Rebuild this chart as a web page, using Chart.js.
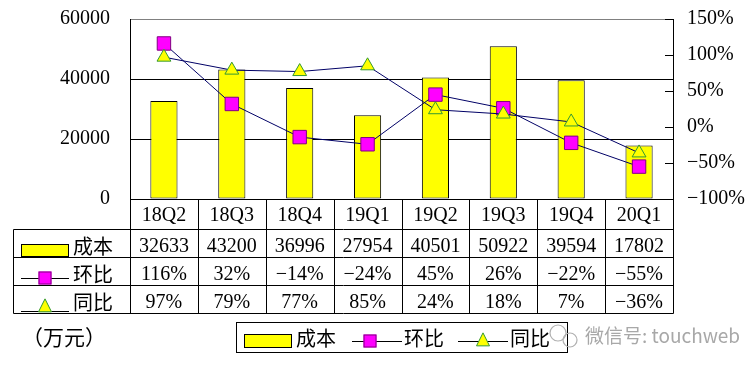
<!DOCTYPE html>
<html><head><meta charset="utf-8">
<script src="https://cdn.jsdelivr.net/npm/chart.js@4/dist/chart.umd.min.js"></script>
<style>html,body{margin:0;padding:0;background:#fff;}#wrap{position:relative;width:755px;height:369px;}</style>
</head><body><div id="wrap"><canvas id="c" width="755" height="369"></canvas></div>
<script>
const categories = ['18Q2','18Q3','18Q4','19Q1','19Q2','19Q3','19Q4','20Q1'];
const costValues = [32633,43200,36996,27954,40501,50922,39594,17802];
const qoqValues = [116,32,-14,-24,45,26,-22,-55];
const yoyValues = [97,79,77,85,24,18,7,-36];
const leftTickStep = 20000;
const leftMax = 60000;
const rightMin = -100, rightMax = 150, rightStep = 50;
const seriesNames = ['成本','环比','同比'];
const unitLabel = '（万元）';
const watermark = '微信号: touchweb';

const SERIF = '"Liberation Serif","Noto Sans CJK SC",serif';
const YELLOW = '#ffff00', MAGENTA = '#ff00ff', SQ_BORDER = '#800080', TRI_BORDER = '#339933', LINE = '#000066';

function pct(v){ return (v < 0 ? '\u2212' + Math.abs(v) : String(v)) + '%'; }

function drawSquare(ctx, x, y, s){
  ctx.fillStyle = MAGENTA; ctx.strokeStyle = SQ_BORDER; ctx.lineWidth = 1;
  ctx.fillRect(x - s/2, y - s/2, s, s); ctx.strokeRect(x - s/2 + 0.5, y - s/2 + 0.5, s - 1, s - 1);
}
function drawTri(ctx, x, y, s){
  ctx.fillStyle = YELLOW; ctx.strokeStyle = TRI_BORDER; ctx.lineWidth = 1;
  ctx.beginPath(); ctx.moveTo(x, y - s*0.55); ctx.lineTo(x + s/2, y + s*0.45); ctx.lineTo(x - s/2, y + s*0.45); ctx.closePath();
  ctx.fill(); ctx.stroke();
}

const extras = {
  id: 'extras',
  afterDatasetsDraw(chart){
    const ctx = chart.ctx, ca = chart.chartArea, y1 = chart.scales.y1;
    ctx.save();
    ctx.strokeStyle = '#000'; ctx.lineWidth = 1;
    y1.ticks.forEach(t => {
      const py = Math.round(y1.getPixelForValue(t.value)) + 0.5;
      ctx.beginPath(); ctx.moveTo(ca.right - 8, py); ctx.lineTo(ca.right, py); ctx.stroke();
    });
    ctx.restore();
  },
  afterDraw(chart){
    const ctx = chart.ctx, ca = chart.chartArea, xs = chart.scales.x;
    const R = Math.round(ca.right) + 0.5;
    const top = Math.round(ca.bottom) + 0.5;
    const rowsY = [top, top + 30, top + 58, top + 86, top + 114];
    const tableLeft = 13.5;
    const n = categories.length, colW = (ca.right - ca.left) / n;
    ctx.save();
    ctx.strokeStyle = '#000'; ctx.lineWidth = 1;
    ctx.beginPath();
    for (let r = 1; r < rowsY.length; r++){ ctx.moveTo(tableLeft, rowsY[r]); ctx.lineTo(R, rowsY[r]); }
    for (let i = 0; i <= n; i++){
      const x = Math.round(ca.left + i * colW) + 0.5;
      ctx.moveTo(x, rowsY[0]); ctx.lineTo(x, rowsY[4]);
    }
    ctx.moveTo(tableLeft, rowsY[1]); ctx.lineTo(tableLeft, rowsY[4]);
    ctx.stroke();

    ctx.fillStyle = '#000';
    ctx.font = '20px ' + SERIF;
    ctx.textAlign = 'center'; ctx.textBaseline = 'middle';
    const rowVals = [costValues.map(String), qoqValues.map(pct), yoyValues.map(pct)];
    categories.forEach((c, i) => {
      const cx = xs.getPixelForValue(i);
      ctx.fillText(c, cx, rowsY[0] + 16);
      for (let r = 0; r < 3; r++) ctx.fillText(rowVals[r][i], cx, rowsY[r+1] + 17);
    });

    ctx.textAlign = 'left';
    ctx.fillStyle = YELLOW; ctx.strokeStyle = '#000';
    ctx.fillRect(21, 244, 48, 13); ctx.strokeRect(21.5, 244.5, 47, 12);
    ctx.strokeStyle = '#000'; ctx.beginPath();
    ctx.moveTo(21, 278.5); ctx.lineTo(69, 278.5);
    ctx.moveTo(21, 311.5); ctx.lineTo(69, 311.5); ctx.stroke();
    drawSquare(ctx, 45, 278, 13);
    drawTri(ctx, 45, 306, 13);
    ctx.fillStyle = '#000';
    ctx.font = '20px "Noto Sans CJK SC",sans-serif';
    ctx.fillText(seriesNames[0], 73, 246);
    ctx.fillText(seriesNames[1], 73, 274);
    ctx.fillText(seriesNames[2], 73, 302);

    ctx.font = '21px "Noto Sans CJK SC",sans-serif';
    ctx.fillText(unitLabel, 22, 337);

    ctx.strokeStyle = '#000';
    ctx.strokeRect(236.5, 322.5, 331, 30);
    ctx.fillStyle = YELLOW;
    ctx.fillRect(244, 334, 48, 14); ctx.strokeRect(244.5, 334.5, 47, 13);
    ctx.beginPath();
    ctx.moveTo(352, 341.5); ctx.lineTo(402, 341.5);
    ctx.moveTo(458, 341.5); ctx.lineTo(508, 341.5); ctx.stroke();
    drawSquare(ctx, 370, 341, 13);
    drawTri(ctx, 483, 340, 13);
    ctx.fillStyle = '#000';
    ctx.font = '20px "Noto Sans CJK SC",sans-serif';
    ctx.fillText(seriesNames[0], 296, 338);
    ctx.fillText(seriesNames[1], 404, 338);
    ctx.fillText(seriesNames[2], 510, 338);

    ctx.strokeStyle = '#b0b0b0'; ctx.lineWidth = 1.2;
    ctx.beginPath(); ctx.arc(558, 333, 8, 0, Math.PI * 2); ctx.stroke();
    ctx.beginPath(); ctx.arc(570, 340, 7, 0, Math.PI * 2); ctx.stroke();
    ctx.fillStyle = '#a8a8a8';
    ctx.font = '19px "Noto Sans CJK SC",sans-serif';
    ctx.fillText(watermark, 585, 336);
    ctx.restore();
  }
};

new Chart(document.getElementById('c'), {
  data: {
    labels: categories,
    datasets: [
      { type: 'line', label: seriesNames[2], data: yoyValues, yAxisID: 'y1', order: 1,
        borderColor: LINE, borderWidth: 1, tension: 0, fill: false,
        pointStyle: 'triangle', pointRadius: 8, pointBackgroundColor: YELLOW, pointBorderColor: TRI_BORDER, pointBorderWidth: 1 },
      { type: 'line', label: seriesNames[1], data: qoqValues, yAxisID: 'y1', order: 2,
        borderColor: LINE, borderWidth: 1, tension: 0, fill: false,
        pointStyle: 'rect', pointRadius: 9.5, pointBackgroundColor: MAGENTA, pointBorderColor: SQ_BORDER, pointBorderWidth: 1 },
      { type: 'bar', label: seriesNames[0], data: costValues, yAxisID: 'y', order: 3,
        backgroundColor: YELLOW, borderColor: '#000', borderWidth: 1, borderSkipped: false,
        categoryPercentage: 1, barPercentage: 0.4 }
    ]
  },
  options: {
    responsive: false, animation: false, devicePixelRatio: 1,
    layout: { padding: { top: 19, bottom: 170, left: 0, right: 0 } },
    plugins: { legend: { display: false }, tooltip: { enabled: false } },
    scales: {
      x: { display: false, offset: true, grid: { display: false } },
      y: {
        position: 'left', min: 0, max: leftMax,
        ticks: { stepSize: leftTickStep, color: '#000', padding: 20, font: { family: SERIF, size: 20 }, callback: v => String(v) },
        grid: { color: c => (c.tick && c.tick.value === leftMax) ? '#808080' : '#000', drawTicks: false, lineWidth: 1 },
        border: { display: true, color: '#000', width: 1 },
        afterFit: s => { s.width = 130; s.paddingTop = 0; s.paddingBottom = 0; }
      },
      y1: {
        position: 'right', min: rightMin, max: rightMax,
        ticks: { stepSize: rightStep, color: '#000', padding: 14, font: { family: SERIF, size: 20 }, callback: v => pct(v) },
        grid: { display: false, drawTicks: false },
        border: { display: true, color: '#000', width: 1 },
        afterFit: s => { s.width = 82; s.paddingTop = 0; s.paddingBottom = 0; }
      }
    }
  },
  plugins: [extras]
});
</script>
</body></html>
